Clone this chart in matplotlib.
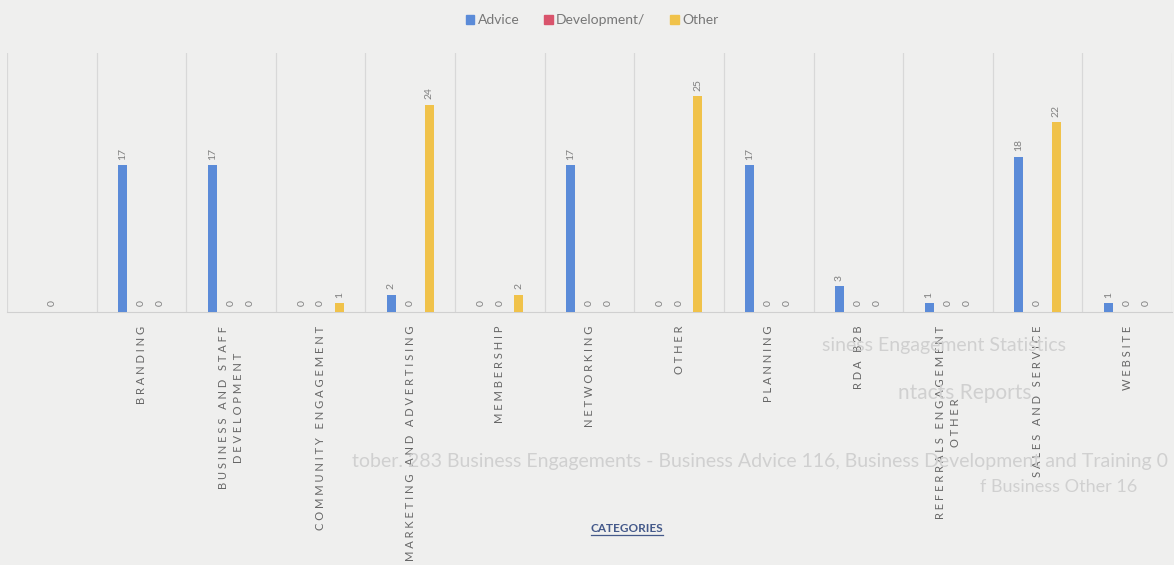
import numpy as np
import matplotlib
matplotlib.use('Agg')
import matplotlib.pyplot as plt
from matplotlib.lines import Line2D

plt.rcParams['font.family'] = ['Lato', 'DejaVu Sans']

categories = ['', 'BRANDING', 'BUSINESS AND STAFF\nDEVELOPMENT', 'COMMUNITY ENGAGEMENT',
              'MARKETING AND ADVERTISING', 'MEMBERSHIP', 'NETWORKING', 'OTHER', 'PLANNING',
              'RDA B2B', 'REFERRALS ENGAGEMENT\nOTHER', 'SALES AND SERVICE', 'WEBSITE']
advice = [np.nan, 17, 17, 0, 2, 0, 17, 0, 17, 3, 1, 18, 1]
development = [0, 0, 0, 0, 0, 0, 0, 0, 0, 0, 0, 0, 0]
other = [np.nan, 0, 0, 1, 24, 2, 0, 25, 0, 0, 0, 22, 0]
series_names = ['Advice', 'Development/', 'Other']
colors = ['#5b8bd8', '#d9546c', '#f0c24a']

# faint text of the page showing through the scan
ghost_lines = ['siness Engagement Statistics', 'ntacts Reports',
               'tober. 283 Business Engagements - Business Advice 116, Business Development and Training 0',
               'f Business Other 16']


def spaced(label):
    out = []
    for line in label.split('\n'):
        out.append('   '.join(' '.join(w) for w in line.split(' ')))
    return '\n'.join(out)


fig = plt.figure(figsize=(11.74, 5.65), dpi=100, facecolor='#efefee')

# ghost text behind the chart
gcol = '#d0d0d0'
fig.text(822/1174, 1-345/565, ghost_lines[0], fontsize=14, color=gcol, va='center', ha='left', zorder=0)
fig.text(898/1174, 1-393/565, ghost_lines[1], fontsize=15, color=gcol, va='center', ha='left', zorder=0)
fig.text(1168/1174, 1-462/565, ghost_lines[2], fontsize=14, color=gcol, va='center', ha='right', zorder=0)
fig.text(980/1174, 1-487/565, ghost_lines[3], fontsize=13, color=gcol, va='center', ha='left', zorder=0)

ax = fig.add_axes([7/1174, 1-312/565, 1165/1174, 259/565])
ax.set_facecolor('none')

x = np.arange(len(categories))
w = 0.1
off = 0.21
data = [advice, development, other]
for i, (vals, c, name) in enumerate(zip(data, colors, series_names)):
    bars = ax.bar(x + (i-1)*off, vals, width=w, color=c, label=name, zorder=3)
    labs = ['' if np.isnan(v) else '%d' % v for v in np.array(vals, dtype=float)]
    ax.bar_label(bars, labels=labs, rotation=90, padding=4, fontsize=7.5, color='#808080')

ax.set_xlim(-0.5, len(categories)-0.5)
ax.set_ylim(0, 30)
ax.set_yticks([])
ax.set_xticks(x)
ax.set_xticklabels([spaced(c) for c in categories], rotation=90, fontsize=8,
                   color='#666666', va='top', ha='center', linespacing=1.5)
ax.tick_params(axis='x', length=0, pad=10)
ax.set_xticks(np.arange(len(categories)+1)-0.5, minor=True)
ax.tick_params(axis='x', which='minor', length=0)
ax.grid(which='minor', axis='x', color='#d8d8d8', linewidth=0.9, zorder=0)
for s in ['top', 'right', 'left']:
    ax.spines[s].set_visible(False)
ax.spines['bottom'].set_color('#d0d0d0')

handles = [plt.Rectangle((0, 0), 1, 1, color=c) for c in colors]
fig.legend(handles, series_names, loc='center', bbox_to_anchor=(592/1174, 1-20/565), ncol=3,
           frameon=False, fontsize=10, handlelength=0.6, handleheight=0.6,
           handletextpad=0.25, columnspacing=1.8, labelcolor='#777777')

t = fig.text(627/1174, 1-528/565, 'CATEGORIES', fontsize=8.5, fontweight='bold',
             color='#44598a', ha='center', va='center')
fig.canvas.draw()
bb = t.get_window_extent()
W, H = fig.bbox.width, fig.bbox.height
fig.add_artist(Line2D([bb.x0/W, bb.x1/W], [(bb.y0-1)/H, (bb.y0-1)/H],
                      color='#44598a', linewidth=0.9))

fig.savefig('out.png', dpi=100, facecolor=fig.get_facecolor())
